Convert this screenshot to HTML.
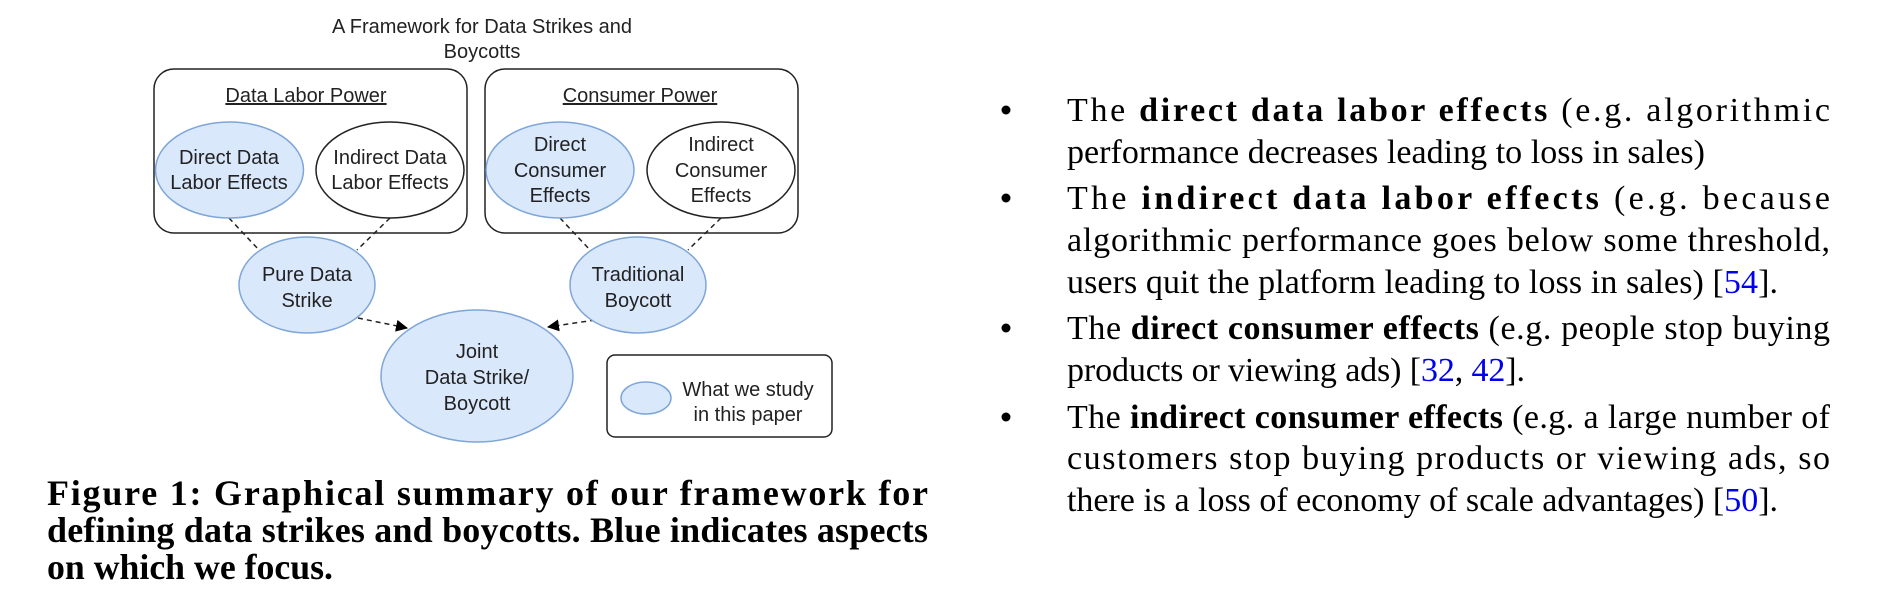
<!DOCTYPE html>
<html><head><meta charset="utf-8"><style>
html,body{margin:0;padding:0;background:#fff;}
svg{display:block;}
.s{font-family:"Liberation Sans",Arial,sans-serif;font-size:20px;fill:#222;}
.r{font-family:"Liberation Serif","Times New Roman",serif;font-size:34px;fill:#000;}
.c{font-family:"Liberation Serif","Times New Roman",serif;font-size:36px;font-weight:bold;fill:#000;}
.b{font-weight:bold;}
.l{fill:#0000ee;}
</style></head><body>
<svg width="1890" height="596" viewBox="0 0 1890 596" xmlns="http://www.w3.org/2000/svg">
<defs><marker id="ah" markerWidth="12" markerHeight="12" refX="11" refY="6" orient="auto" markerUnits="userSpaceOnUse"><path d="M0,0 L12,6 L0,12 z" fill="#000"/></marker></defs>
<g class="s" text-anchor="middle">
<text x="482" y="33">A Framework for Data Strikes and</text>
<text x="482" y="58">Boycotts</text>
</g>
<rect x="154" y="69" width="313" height="164" rx="20" fill="none" stroke="#222" stroke-width="1.5"/>
<rect x="485" y="69" width="313" height="164" rx="20" fill="none" stroke="#222" stroke-width="1.5"/>
<g stroke="#222" stroke-width="1.5" stroke-dasharray="5,4" fill="none">
<line x1="229" y1="218" x2="259" y2="250"/>
<line x1="390" y1="218" x2="357" y2="250"/>
<line x1="560" y1="218" x2="590" y2="250"/>
<line x1="721" y1="218" x2="688" y2="250"/>
<line x1="358" y1="318" x2="407" y2="328" marker-end="url(#ah)"/>
<line x1="595" y1="320" x2="548" y2="327" marker-end="url(#ah)"/>
</g>
<g stroke-width="1.5">
<ellipse cx="229.5" cy="170" rx="74" ry="48" fill="#dae8fc" stroke="#7ea6d8"/>
<ellipse cx="390" cy="170" rx="74" ry="48" fill="#fff" stroke="#222"/>
<ellipse cx="560" cy="170" rx="74" ry="48" fill="#dae8fc" stroke="#7ea6d8"/>
<ellipse cx="721" cy="170" rx="74" ry="48" fill="#fff" stroke="#222"/>
<ellipse cx="307" cy="285" rx="68" ry="48" fill="#dae8fc" stroke="#7ea6d8"/>
<ellipse cx="638" cy="285" rx="68" ry="48" fill="#dae8fc" stroke="#7ea6d8"/>
<ellipse cx="477" cy="376" rx="96" ry="66" fill="#dae8fc" stroke="#7ea6d8"/>
</g>
<rect x="607" y="355" width="225" height="82" rx="8" fill="none" stroke="#222" stroke-width="1.5"/>
<ellipse cx="646" cy="398" rx="25" ry="16" fill="#dae8fc" stroke="#7ea6d8" stroke-width="1.5"/>
<g class="s" text-anchor="middle">
<text x="306" y="102" text-decoration="underline">Data Labor Power</text>
<text x="640" y="102" text-decoration="underline">Consumer Power</text>
<text x="229" y="164">Direct Data</text><text x="229" y="189">Labor Effects</text>
<text x="390" y="164">Indirect Data</text><text x="390" y="189">Labor Effects</text>
<text x="560" y="151">Direct</text><text x="560" y="177">Consumer</text><text x="560" y="202">Effects</text>
<text x="721" y="151">Indirect</text><text x="721" y="177">Consumer</text><text x="721" y="202">Effects</text>
<text x="307" y="281">Pure Data</text><text x="307" y="307">Strike</text>
<text x="638" y="281">Traditional</text><text x="638" y="307">Boycott</text>
<text x="477" y="358">Joint</text><text x="477" y="384">Data Strike/</text><text x="477" y="410">Boycott</text>
<text x="748" y="396">What we study</text><text x="748" y="421">in this paper</text>
</g>
<g class="c">
<text x="47" y="505" textLength="881" lengthAdjust="spacing">Figure 1: Graphical summary of our framework for</text>
<text x="47" y="542" textLength="881" lengthAdjust="spacing">defining data strikes and boycotts. Blue indicates aspects</text>
<text x="47" y="579" textLength="286" lengthAdjust="spacingAndGlyphs">on which we focus.</text>
</g>
<g fill="#000">
<circle cx="1006" cy="110" r="4.5"/><circle cx="1006" cy="198" r="4.5"/>
<circle cx="1006" cy="328" r="4.5"/><circle cx="1006" cy="417" r="4.5"/>
</g>
<g class="r">
<text x="1067" y="121" textLength="763" lengthAdjust="spacing">The <tspan class="b">direct data labor effects</tspan> (e.g. algorithmic</text>
<text x="1067" y="163" textLength="638" lengthAdjust="spacing">performance decreases leading to loss in sales)</text>
<text x="1067" y="209" textLength="763" lengthAdjust="spacing">The <tspan class="b">indirect data labor effects</tspan> (e.g. because</text>
<text x="1067" y="251" textLength="763" lengthAdjust="spacing">algorithmic performance goes below some threshold,</text>
<text x="1067" y="293" textLength="711" lengthAdjust="spacing">users quit the platform leading to loss in sales) [<tspan class="l">54</tspan>].</text>
<text x="1067" y="339" textLength="763" lengthAdjust="spacing">The <tspan class="b">direct consumer effects</tspan> (e.g. people stop buying</text>
<text x="1067" y="381" textLength="458" lengthAdjust="spacing">products or viewing ads) [<tspan class="l">32</tspan>, <tspan class="l">42</tspan>].</text>
<text x="1067" y="428" textLength="763" lengthAdjust="spacing">The <tspan class="b">indirect consumer effects</tspan> (e.g. a large number of</text>
<text x="1067" y="469" textLength="763" lengthAdjust="spacing">customers stop buying products or viewing ads, so</text>
<text x="1067" y="511" textLength="711" lengthAdjust="spacing">there is a loss of economy of scale advantages) [<tspan class="l">50</tspan>].</text>
</g>
</svg>
</body></html>
